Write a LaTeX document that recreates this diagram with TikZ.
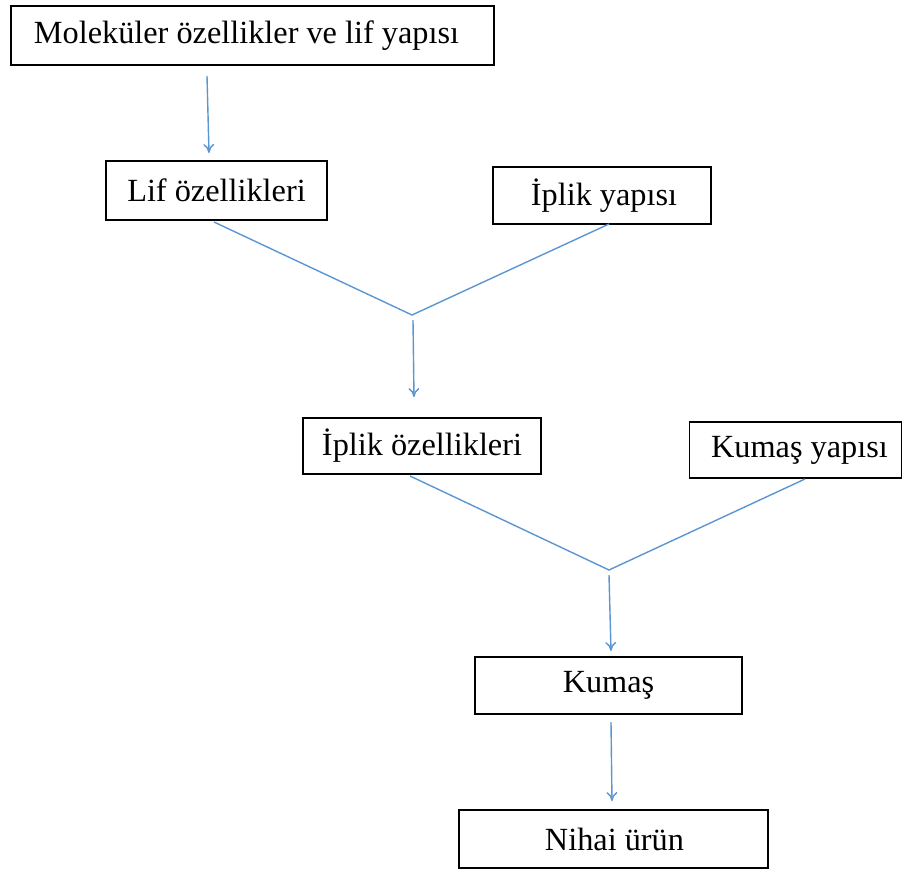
\documentclass[tikz,border=0pt]{standalone}
\usepackage{fontspec}
\setmainfont{Liberation Serif}
\usetikzlibrary{arrows.meta,calc}
\begin{document}
\begin{tikzpicture}[x=1pt,y=-1pt,
  box/.style={draw=black,line width=1.5pt,inner sep=0pt,anchor=center,
    font=\fontsize{32.3}{38}\selectfont},
  link/.style={draw=linkblue,line width=1.4pt},
  arr/.style={link,-{To[length=9pt,width=11pt]}}]
\definecolor{linkblue}{RGB}{91,150,210}
\useasboundingbox (0,0) rectangle (903,871);
\node[box,minimum width=483pt,minimum height=59pt] (b1) at (252.5,35.5) {\hspace*{-12pt}Moleküler özellikler ve lif yapısı};
\node[box,minimum width=221pt,minimum height=59pt] (b2) at (216.5,190.5) {Lif özellikleri};
\node[box,minimum width=218pt,minimum height=57pt] (b3) at (602,195.5) {\hspace*{4pt}İplik yapısı};
\node[box,minimum width=238pt,minimum height=56pt] (b4) at (422,446) {İplik özellikleri};
\node[box,minimum width=212pt,minimum height=56pt] (b5) at (795.5,450) {\hspace*{8pt}Kumaş yapısı};
\node[box,minimum width=267pt,minimum height=57pt] (b6) at (608.5,685.5) {Kumaş};
\node[box,minimum width=309pt,minimum height=58pt] (b7) at (613.5,839) {\hspace*{2pt}Nihai ürün};
% junctions and free ends
\coordinate (a1s) at (207,76);
\coordinate (a1e) at (209,153);
\coordinate (l1) at (214,222);
\coordinate (r1) at (609,224);
\coordinate (j1) at (412,315);
\coordinate (a2s) at (413,320);
\coordinate (a2e) at (414,397);
\coordinate (l2) at (410,476);
\coordinate (r2) at (805,479);
\coordinate (j2) at (609,570);
\coordinate (a3s) at (609,575);
\coordinate (a3e) at (611,651);
\coordinate (a4s) at (611,722);
\coordinate (a4e) at (612,801);
\draw[arr] (a1s) -- (a1e);
\draw[link] (l1) -- (j1) -- (r1);
\draw[arr] (a2s) -- (a2e);
\draw[link] (l2) -- (j2) -- (r2);
\draw[arr] (a3s) -- (a3e);
\draw[arr] (a4s) -- (a4e);
\end{tikzpicture}
\end{document}
